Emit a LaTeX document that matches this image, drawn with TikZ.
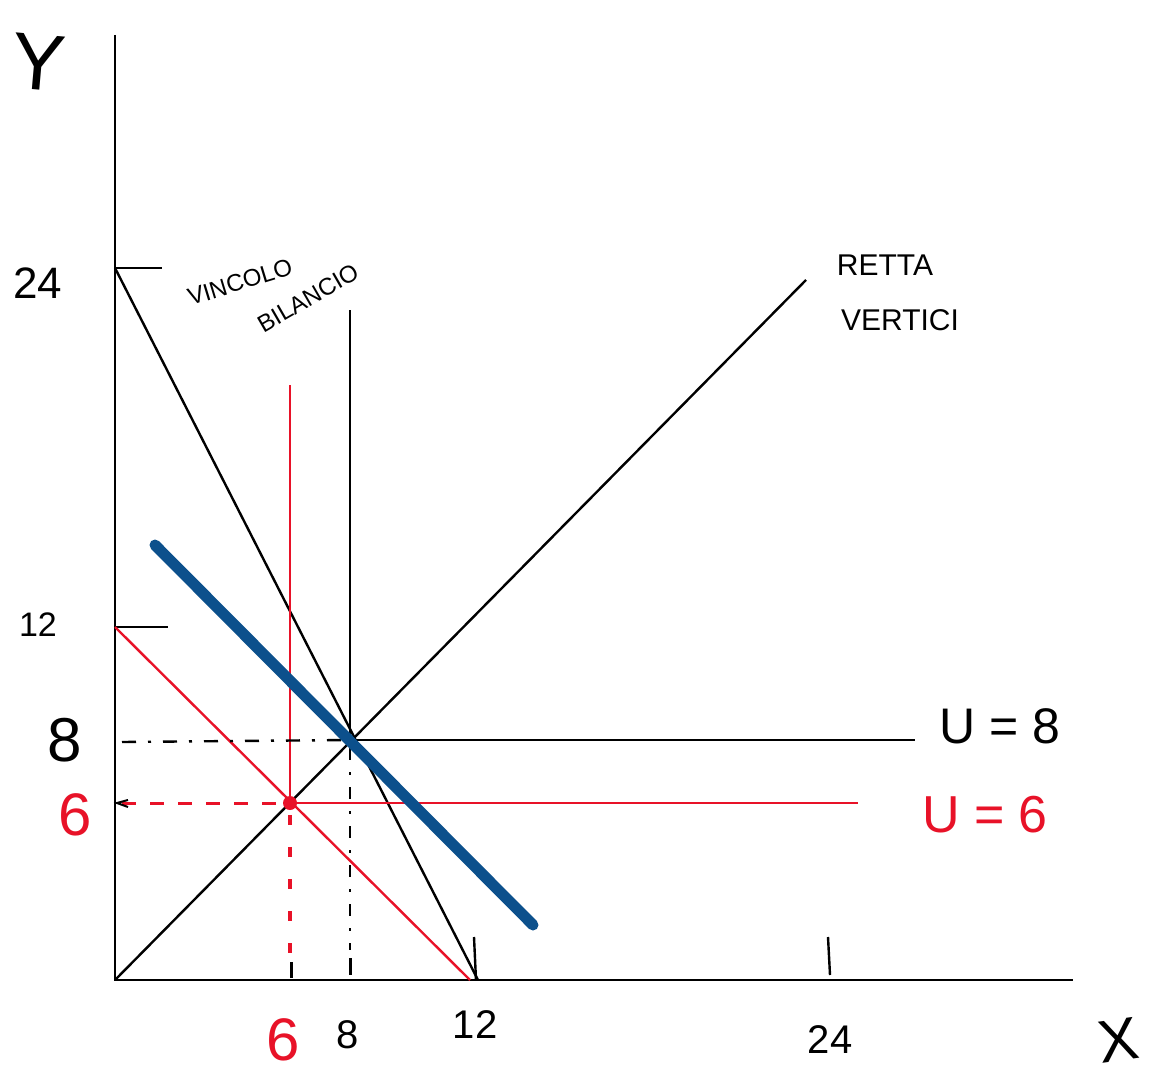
\documentclass[tikz,border=0pt]{standalone}
\usepackage{fontspec}
\setmainfont{Liberation Sans}
\begin{document}
\begin{tikzpicture}[x=1pt,y=-1pt,
  axis/.style={line width=2.4pt,black},
  ln/.style={line width=2.4pt,black},
  rln/.style={line width=2.4pt,red1},
  blueln/.style={line width=11pt,blue1,line cap=round},
  lbl/.style={inner sep=0pt,font=\fontsize{40}{40}\selectfont},
  rlbl/.style={lbl,text=red1},
]
\definecolor{red1}{RGB}{232,18,40}
\definecolor{blue1}{RGB}{12,80,140}
\useasboundingbox (0,0) rectangle (1156,1075);
\fill[white] (0,0) rectangle (1156,1075);
% coordinates
\coordinate (O) at (115,980);
\coordinate (ytop) at (115,35);
\coordinate (xend) at (1073,980);
\coordinate (y24) at (115,268);
\coordinate (x12b) at (478,980);
\coordinate (y12) at (115,627);
\coordinate (x12r) at (470,980);
\coordinate (A) at (350,740);
\coordinate (B) at (290,803);
\coordinate (Atop) at (350,310);
\coordinate (Aright) at (915,740);
\coordinate (Btop) at (290,385);
\coordinate (Bright) at (858,803);
\coordinate (diagend) at (806,280);
\coordinate (bl1) at (155,545);
\coordinate (bl2) at (533,925);
% axes
\draw[axis] (ytop) -- (O) -- (xend);
% ticks
\draw[ln] (y24) -- (162,268);
\draw[ln] (y12) -- (168,627);
\draw[ln] (474,937) -- (476,980);
\draw[ln] (828,937) -- (830,975);
\draw[ln,line width=3pt] (291,962) -- (291,978);
\draw[ln,line width=3pt] (350,958) -- (350,975);
% budget line
\draw[ln] (y24) -- (x12b);
% red budget
\draw[rln] (y12) -- (x12r);
% indifference curves
\draw[ln] (Atop) -- (A) -- (Aright);
\draw[rln] (Btop) -- (B) -- (Bright);
% retta vertici
\draw[ln] (O) -- (diagend);
% projections
\draw[ln,dash pattern=on 14pt off 12pt on 3pt off 12pt] (122,742) -- (A);
\draw[ln,dash pattern=on 12pt off 12pt on 3pt off 12pt] (350,748) -- (350,950);
\draw[rln,line width=3pt,dash pattern=on 14pt off 14pt] (122,803) -- (B);
\draw[rln,line width=3.5pt,dash pattern=on 10pt off 22pt] (290,815) -- (290,955);
\draw[ln,line width=2pt] (128,800) -- (117,803) -- (128,807);
\fill[red1] (B) circle (7pt);
% blue line
\draw[blueln] (bl1) -- (bl2);
% labels
\node[lbl,font=\fontsize{80}{80}\selectfont,rotate=-5] (ylab) at (38,62) {Y};
\node[lbl,font=\fontsize{60}{60}\selectfont,rotate=8] (xlab) at (1118,1040) {X};
\node[lbl,font=\fontsize{44}{44}\selectfont] (l24y) at (38,283) {24};
\node[lbl,font=\fontsize{34}{34}\selectfont] (l12y) at (38,625) {12};
\node[lbl,font=\fontsize{62}{62}\selectfont] (l8y) at (65,740) {8};
\node[rlbl,font=\fontsize{60}{60}\selectfont] (l6y) at (75,815) {6};
\node[rlbl,font=\fontsize{60}{60}\selectfont] (l6x) at (283,1040) {6};
\node[lbl,font=\fontsize{40}{40}\selectfont] (l8x) at (348,1035) {8};
\node[lbl,font=\fontsize{40}{40}\selectfont] (l12x) at (475,1025) {12};
\node[lbl,font=\fontsize{40}{40}\selectfont] (l24x) at (830,1040) {24};
\node[lbl,font=\fontsize{50}{50}\selectfont] (u8) at (1000,726) {U = 8};
\node[rlbl,font=\fontsize{52}{52}\selectfont] (u6) at (985,815) {U = 6};
\node[lbl,font=\fontsize{24}{24}\selectfont,rotate=17] (vinc) at (240,282) {VINCOLO};
\node[lbl,font=\fontsize{24}{24}\selectfont,rotate=30] (bil) at (308,298) {BILANCIO};
\node[lbl,font=\fontsize{30}{30}\selectfont] (retta) at (885,265) {RETTA};
\node[lbl,font=\fontsize{30}{30}\selectfont] (vert) at (900,320) {VERTICI};
\end{tikzpicture}
\end{document}
